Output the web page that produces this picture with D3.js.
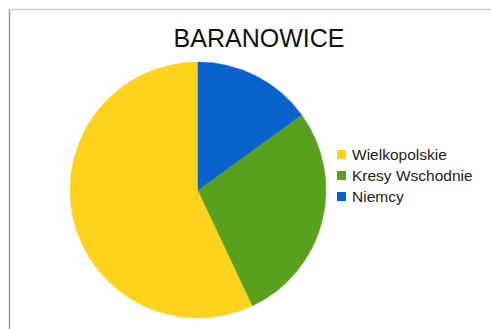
<!DOCTYPE html>
<html>
<head>
<meta charset="utf-8">
<script src="https://cdn.jsdelivr.net/npm/d3@7"></script>
<style>
  html, body { margin: 0; padding: 0; background: #fff; }
  svg { display: block; }
</style>
</head>
<body>
<svg id="chart" width="491" height="329"></svg>
<script>
// Share of settlers in Baranowice by region of origin (percent)
const title = "BARANOWICE";
const categories = ["Wielkopolskie", "Kresy Wschodnie", "Niemcy"];
const values = [57, 28, 15];
const colors = ["#ffd21e", "#58a01e", "#0a62cc"];

const svg = d3.select("#chart");
const W = 491, H = 329;

// frame
svg.append("line").attr("x1", 9.5).attr("y1", 9.5).attr("x2", W).attr("y2", 9.5)
  .attr("stroke", "#cfcfcf").attr("stroke-width", 1.5);
svg.append("line").attr("x1", 9.5).attr("y1", 9.5).attr("x2", 9.5).attr("y2", H)
  .attr("stroke", "#9a9a9a").attr("stroke-width", 1.5);

// title
svg.append("text")
  .attr("x", 259).attr("y", 47)
  .attr("text-anchor", "middle")
  .attr("font-family", "Liberation Sans, Arial, sans-serif")
  .attr("font-size", 25)
  .attr("fill", "#111")
  .text(title);

// pie, drawn counter-clockwise from 12 o'clock
const cx = 198, cy = 190, r = 128;
const color = d3.scaleOrdinal().domain(categories).range(colors);
const pie = d3.pie().sort(null).value(d => d.v).startAngle(0).endAngle(-2 * Math.PI);
const arc = d3.arc().innerRadius(0).outerRadius(r);
const data = categories.map((c, i) => ({ c, v: values[i] }));

svg.append("g").attr("transform", `translate(${cx},${cy})`)
  .selectAll("path")
  .data(pie(data))
  .join("path")
  .attr("d", arc)
  .attr("fill", d => color(d.data.c))
  .attr("stroke", d => color(d.data.c))
  .attr("stroke-width", 0.5);

// legend
const legend = svg.append("g").attr("transform", "translate(337,150)");
const row = legend.selectAll("g").data(categories).join("g")
  .attr("transform", (d, i) => `translate(0,${i * 21})`);
row.append("rect").attr("x", 0).attr("y", 0).attr("width", 9).attr("height", 9)
  .attr("fill", d => color(d));
row.append("text").attr("x", 15).attr("y", 10)
  .attr("font-family", "Liberation Sans, Arial, sans-serif")
  .attr("font-size", 15.5)
  .attr("fill", "#222")
  .text(d => d);
</script>
</body>
</html>
